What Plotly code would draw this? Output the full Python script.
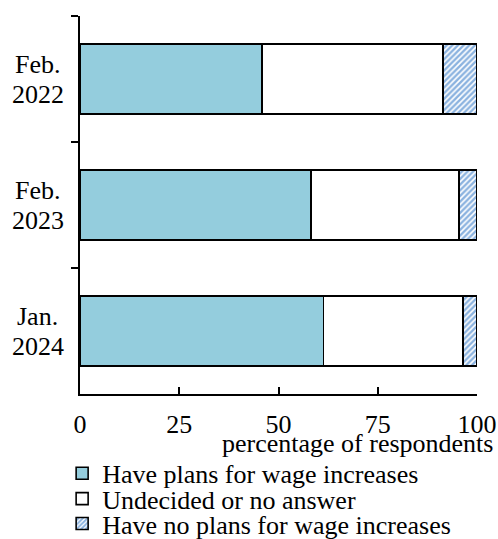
import plotly.graph_objects as go

categories = ["Feb. 2022", "Feb. 2023", "Jan. 2024"]
label_line1 = ["Feb.", "Feb.", "Jan."]
label_line2 = ["2022", "2023", "2024"]
have_plans = [45.8, 58.2, 61.3]
undecided = [45.6, 37.3, 35.1]
no_plans = [8.6, 4.5, 3.6]
x_ticks = [0, 25, 50, 75, 100]
series_names = ["Have plans for wage increases", "Undecided or no answer",
                "Have no plans for wage increases"]

FONT = "Liberation Serif, Times New Roman, serif"
FS = 26

fig = go.Figure()
fig.add_trace(go.Bar(
    y=categories, x=have_plans, orientation="h", name=series_names[0],
    marker=dict(color="#94CDDD", line=dict(color="black", width=1.6)),
    width=0.56, legend="legend"))
fig.add_trace(go.Bar(
    y=categories, x=undecided, orientation="h", name=series_names[1],
    marker=dict(color="white", line=dict(color="black", width=1.6)),
    width=0.56, legend="legend2"))
fig.add_trace(go.Bar(
    y=categories, x=no_plans, orientation="h", name=series_names[2],
    marker=dict(color="white", line=dict(color="black", width=1.6),
                pattern=dict(shape="/", fgcolor="#1565C0", bgcolor="white",
                             size=4, solidity=0.6, fillmode="overlay")),
    width=0.56, legend="legend3"))

leg_common = dict(x=-0.045, xanchor="left", yanchor="middle",
                  font=dict(family=FONT, size=FS, color="black"),
                  bgcolor="rgba(0,0,0,0)", borderwidth=0,
                  itemwidth=30, tracegroupgap=0)

fig.update_layout(
    width=498, height=539,
    margin=dict(l=80, r=21, t=16, b=145, autoexpand=False),
    paper_bgcolor="white", plot_bgcolor="white",
    barmode="stack", bargap=0.44,
    font=dict(family=FONT, size=FS, color="black"),
    showlegend=True,
    legend=dict(y=-0.21, **leg_common),
    legend2=dict(y=-0.277, **leg_common),
    legend3=dict(y=-0.343, **leg_common),
    xaxis=dict(range=[0, 100], tickvals=x_ticks, ticks="inside", ticklen=7,
               tickwidth=1.5, tickcolor="black", showline=True, linecolor="black",
               linewidth=1.5, showgrid=False, zeroline=False, ticklabelstandoff=6,
               tickfont=dict(family=FONT, size=FS, color="black")),
    yaxis=dict(categoryorder="array", categoryarray=categories, autorange="reversed",
               showticklabels=False, ticks="outside", tickson="boundaries",
               ticklen=7, tickwidth=1.5, tickcolor="black", showline=True,
               linecolor="black", linewidth=1.5, showgrid=False, zeroline=False),
)

for cat, l1, l2 in zip(categories, label_line1, label_line2):
    fig.add_annotation(x=-0.106, xref="paper", y=cat, yref="y", text=l1,
                       showarrow=False, xanchor="center", yanchor="middle", yshift=15,
                       font=dict(family=FONT, size=FS, color="black"))
    fig.add_annotation(x=-0.106, xref="paper", y=cat, yref="y", text=l2,
                       showarrow=False, xanchor="center", yanchor="middle", yshift=-15,
                       font=dict(family=FONT, size=FS, color="black"))

fig.add_annotation(x=1.045, xref="paper", y=-0.13, yref="paper", yanchor="middle",
                   xanchor="right", text="percentage of respondents", showarrow=False,
                   font=dict(family=FONT, size=FS, color="black"))

fig.write_html(
    "out.html",
    config={"displayModeBar": False},
    post_script="document.body.style.margin='0';document.body.style.overflow='hidden';",
)
